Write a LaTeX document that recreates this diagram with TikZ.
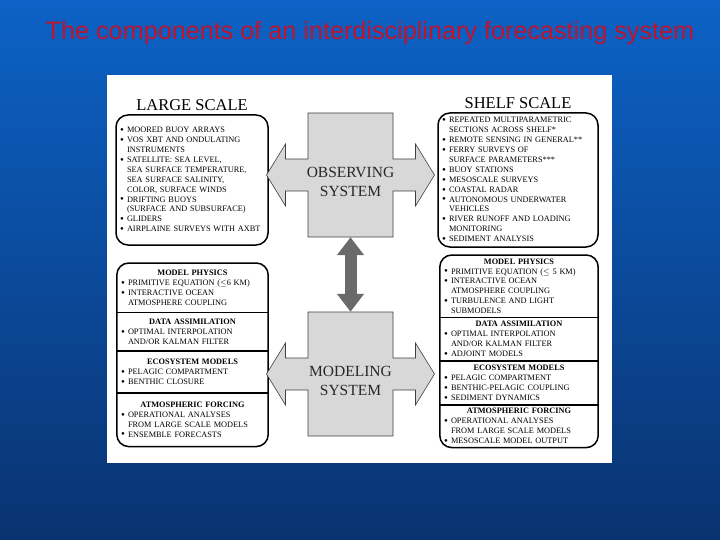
\documentclass[tikz,border=0pt]{standalone}
\usepackage{fontspec}
\setmainfont{Liberation Serif}
\newfontfamily\titlefont{Liberation Sans}
\usetikzlibrary{arrows.meta,fit,positioning}

\definecolor{slideblue}{RGB}{12,98,198}
\definecolor{slidenavy}{RGB}{10,50,112}
\definecolor{titlered}{RGB}{190,20,46}
\definecolor{sysgray}{RGB}{216,216,216}
\definecolor{linkgray}{RGB}{106,106,106}
\definecolor{systext}{RGB}{40,40,40}

\newcommand{\bul}{\makebox[7pt][l]{\raisebox{-.9pt}{\fontsize{11}{9.9}\selectfont\textbullet}}}
\newcommand{\ind}{\hspace*{7pt}}
\newcommand{\sechead}[1]{\makebox[\linewidth]{\textbf{#1}}}
% grey system block with its two side arrows, centred on #1
\newcommand{\sysshape}[1]{%
  \draw[sysfill,shift={(#1)}] (-42.5,-62) -- (42.5,-62) -- (42.5,-16) -- (65,-16) -- (65,-31)
    -- (84,0) -- (65,31) -- (65,16) -- (42.5,16) -- (42.5,62) -- (-42.5,62) -- (-42.5,16)
    -- (-65,16) -- (-65,31) -- (-84,0) -- (-65,-31) -- (-65,-16) -- (-42.5,-16) -- cycle;}

\begin{document}
\begin{tikzpicture}[
  x=1pt,y=-1pt,
  title/.style={text=titlered,font=\titlefont\fontsize{25.2}{28}\selectfont},
  scalename/.style={font=\fontsize{16.5}{19}\selectfont,inner sep=2pt},
  obsbox/.style={draw,line width=1.5pt,rounded corners=12pt,align=left,inner xsep=4pt,
    font=\fontsize{8.3}{9.9}\selectfont},
  sec/.style={inner xsep=4pt,inner ysep=0pt,align=left,font=\fontsize{8.3}{9.9}\selectfont},
  frame/.style={draw,line width=1.5pt,rounded corners=12pt,inner sep=0pt},
  divider/.style={line width=1.5pt},
  sysfill/.style={fill=sysgray,draw=black!75,line width=.6pt},
  sysbox/.style={minimum width=85pt,minimum height=124pt,inner sep=0pt},
  sysname/.style={align=center,text=systext,font=\fontsize{15.5}{19}\selectfont},
  link/.style={{Triangle[length=18pt,width=26pt]}-{Triangle[length=18pt,width=26pt]},
    line width=12pt,draw=linkgray}
]
\useasboundingbox (0,0) rectangle (720,540);
\shade[top color=slideblue,bottom color=slidenavy] (0,0) rectangle (720,540);
\node[title] (ttl) at (370,33) {The components of an interdisciplinary forecasting system};
\fill[white] (107,75) rectangle (612,463);

% observing side
\node[obsbox,text width=144pt,minimum height=130pt] (lobs) at (192,180)
  {\bul MOORED BUOY ARRAYS\\
   \bul VOS XBT AND ONDULATING\\
   \ind INSTRUMENTS\\
   \bul SATELLITE: SEA LEVEL,\\
   \ind SEA SURFACE TEMPERATURE,\\
   \ind SEA SURFACE SALINITY,\\
   \ind COLOR, SURFACE WINDS\\
   \bul DRIFTING BUOYS\\
   \ind (SURFACE AND SUBSURFACE)\\
   \bul GLIDERS\\
   \bul AIRPLAINE SURVEYS WITH AXBT};
\node[obsbox,text width=152pt,minimum height=134pt] (robs) at (518,180)
  {\bul REPEATED MULTIPARAMETRIC\\
   \ind SECTIONS ACROSS SHELF*\\
   \bul REMOTE SENSING IN GENERAL**\\
   \bul FERRY SURVEYS OF\\
   \ind SURFACE PARAMETERS***\\
   \bul BUOY STATIONS\\
   \bul MESOSCALE SURVEYS\\
   \bul COASTAL RADAR\\
   \bul AUTONOMOUS UNDERWATER\\
   \ind VEHICLES\\
   \bul RIVER RUNOFF AND LOADING\\
   \ind MONITORING\\
   \bul SEDIMENT ANALYSIS};
\node[scalename,above=1pt of lobs] (lscale) {LARGE SCALE};
\node[scalename,above=1pt of robs] (rscale) {SHELF SCALE};

% modeling side, large scale
\node[sec,text width=143pt,minimum height=49pt,anchor=north] (lphys) at (192.5,263)
  {\sechead{MODEL PHYSICS}\\
   \bul PRIMITIVE EQUATION ({\footnotesize$\leq$}6 KM)\\
   \bul INTERACTIVE OCEAN\\
   \ind ATMOSPHERE COUPLING};
\node[sec,text width=143pt,minimum height=38pt,below=0pt of lphys] (lassim)
  {\sechead{DATA ASSIMILATION}\\
   \bul OPTIMAL INTERPOLATION\\
   \ind AND/OR KALMAN FILTER};
\node[sec,text width=143pt,minimum height=42pt,below=0pt of lassim] (leco)
  {\sechead{ECOSYSTEM MODELS}\\
   \bul PELAGIC COMPARTMENT\\
   \bul BENTHIC CLOSURE};
\node[sec,text width=143pt,minimum height=53pt,below=0pt of leco] (lforc)
  {\sechead{ATMOSPHERIC FORCING}\\
   \bul OPERATIONAL ANALYSES\\
   \ind FROM LARGE SCALE MODELS\\
   \bul ENSEMBLE FORECASTS};
\node[frame,fit=(lphys)(lforc)] (lmod) {};
\draw[divider] (lphys.south west) -- (lphys.south east);
\draw[divider] (lassim.south west) -- (lassim.south east);
\draw[divider] (leco.south west) -- (leco.south east);

% modeling side, shelf scale
\node[sec,text width=150pt,minimum height=62pt,anchor=north] (rphys) at (519,255)
  {\sechead{MODEL PHYSICS}\\
   \bul PRIMITIVE EQUATION ({\footnotesize$\leq$} 5 KM)\\
   \bul INTERACTIVE OCEAN\\
   \ind ATMOSPHERE COUPLING\\
   \bul TURBULENCE AND LIGHT\\
   \ind SUBMODELS};
\node[sec,text width=150pt,minimum height=43pt,below=0pt of rphys] (rassim)
  {\sechead{DATA ASSIMILATION}\\
   \bul OPTIMAL INTERPOLATION\\
   \ind AND/OR KALMAN FILTER\\
   \bul ADJOINT MODELS};
\node[sec,text width=150pt,minimum height=44pt,below=0pt of rassim] (reco)
  {\sechead{ECOSYSTEM MODELS}\\
   \bul PELAGIC COMPARTMENT\\
   \bul BENTHIC-PELAGIC COUPLING\\
   \bul SEDIMENT DYNAMICS};
\node[sec,text width=150pt,minimum height=42pt,below=0pt of reco] (rforc)
  {\sechead{ATMOSPHERIC FORCING}\\
   \bul OPERATIONAL ANALYSES\\
   \ind FROM LARGE SCALE MODELS\\
   \bul MESOSCALE MODEL OUTPUT};
\node[frame,fit=(rphys)(rforc)] (rmod) {};
\draw[divider] (rphys.south west) -- (rphys.south east);
\draw[divider] (rassim.south west) -- (rassim.south east);
\draw[divider] (reco.south west) -- (reco.south east);

% the two systems
\coordinate (obsc) at (350.5,175);
\coordinate (modc) at (350.5,374);
\sysshape{obsc}
\sysshape{modc}
\node[sysbox] (obs) at (obsc) {};
\node[sysbox] (mod) at (modc) {};
\node[sysname] (obsname) at ([yshift=-7pt]obs.center) {OBSERVING\\SYSTEM};
\node[sysname] (modname) at ([yshift=-7pt]mod.center) {MODELING\\SYSTEM};
\draw[link] (obs) -- (mod);
\end{tikzpicture}
\end{document}
